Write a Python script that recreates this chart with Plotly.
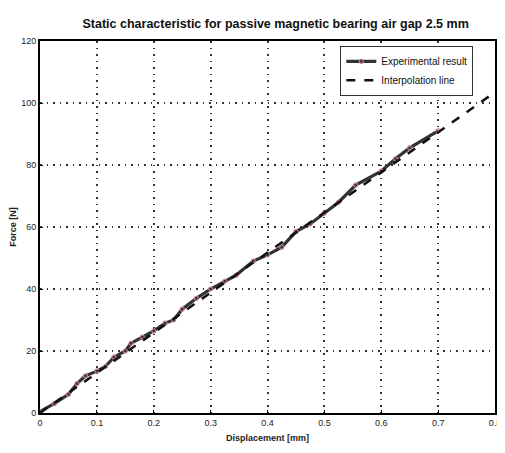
import plotly.graph_objects as go

disp_exp = [0.0, 0.025, 0.05, 0.065, 0.08, 0.1, 0.115, 0.13, 0.15, 0.16, 0.18, 0.2, 0.22,
            0.235, 0.25, 0.275, 0.3, 0.325, 0.345, 0.375, 0.4, 0.425, 0.45, 0.475, 0.5,
            0.525, 0.555, 0.6, 0.625, 0.65, 0.7]
force_exp = [0.5, 3.0, 6.0, 9.5, 12.0, 13.5, 15.0, 18.0, 20.0, 22.5, 24.5, 26.5, 29.0,
             30.0, 33.5, 37.0, 40.0, 42.5, 44.5, 49.0, 51.0, 53.5, 58.5, 61.0, 64.5,
             68.0, 73.5, 78.0, 82.0, 85.5, 91.0]

disp_fit = [0.0, 0.8]
force_fit = [0.0, 103.5]

title_text = "Static characteristic for passive magnetic bearing air gap 2.5 mm"
x_title = "Displacement [mm]"
y_title = "Force [N]"
x_ticks = [0, 0.1, 0.2, 0.3, 0.4, 0.5, 0.6, 0.7, 0.8]
x_tick_text = ["0", "0.1", "0.2", "0.3", "0.4", "0.5", "0.6", "0.7", "0.8"]
y_ticks = [0, 20, 40, 60, 80, 100, 120]

font_fam = "Liberation Sans, Arial"

fig = go.Figure()
fig.add_trace(go.Scatter(
    x=disp_exp, y=force_exp, mode="lines+markers", name="Experimental result",
    line=dict(color="#333333", width=3.2),
    marker=dict(symbol="circle-open", size=4, color="#c07888", line=dict(width=1.2)),
))
fig.add_trace(go.Scatter(
    x=disp_fit, y=force_fit, mode="lines", name="Interpolation line",
    line=dict(color="#111111", width=2.5, dash="dash"),
))

axis_common = dict(
    showgrid=True, gridcolor="#333333", griddash="1.5px,5px", gridwidth=1.5,
    showline=True, linecolor="black", linewidth=2, mirror=True,
    zeroline=False, ticks="inside", ticklen=3, tickcolor="black",
    automargin=False,
    tickfont=dict(family=font_fam, size=9, color="#222222"),
)

fig.update_layout(
    width=505, height=453,
    margin=dict(l=32, r=18, t=33, b=48),
    paper_bgcolor="white", plot_bgcolor="white",
    title=dict(text="<b>" + title_text + "</b>", x=0.53, xanchor="center",
               y=0.965, yanchor="middle",
               font=dict(family=font_fam, size=12.5, color="#111111")),
    xaxis=dict(range=[0, 0.8], tickmode="array", tickvals=x_ticks, ticktext=x_tick_text,
               title=dict(text="<b>" + x_title + "</b>", standoff=8,
                          font=dict(family=font_fam, size=9, color="#222222")),
               **axis_common),
    yaxis=dict(range=[0, 120], tickvals=y_ticks,
               title=dict(text="<b>" + y_title + "</b>", standoff=4,
                          font=dict(family=font_fam, size=9, color="#222222")),
               **axis_common),
    legend=dict(x=0.66, y=0.987, xanchor="left", yanchor="top",
                bgcolor="white", bordercolor="#333333", borderwidth=1,
                font=dict(family=font_fam, size=10, color="#111111"),
                tracegroupgap=0),
    showlegend=True,
)

fig.write_html("out.html", config={"responsive": False})
